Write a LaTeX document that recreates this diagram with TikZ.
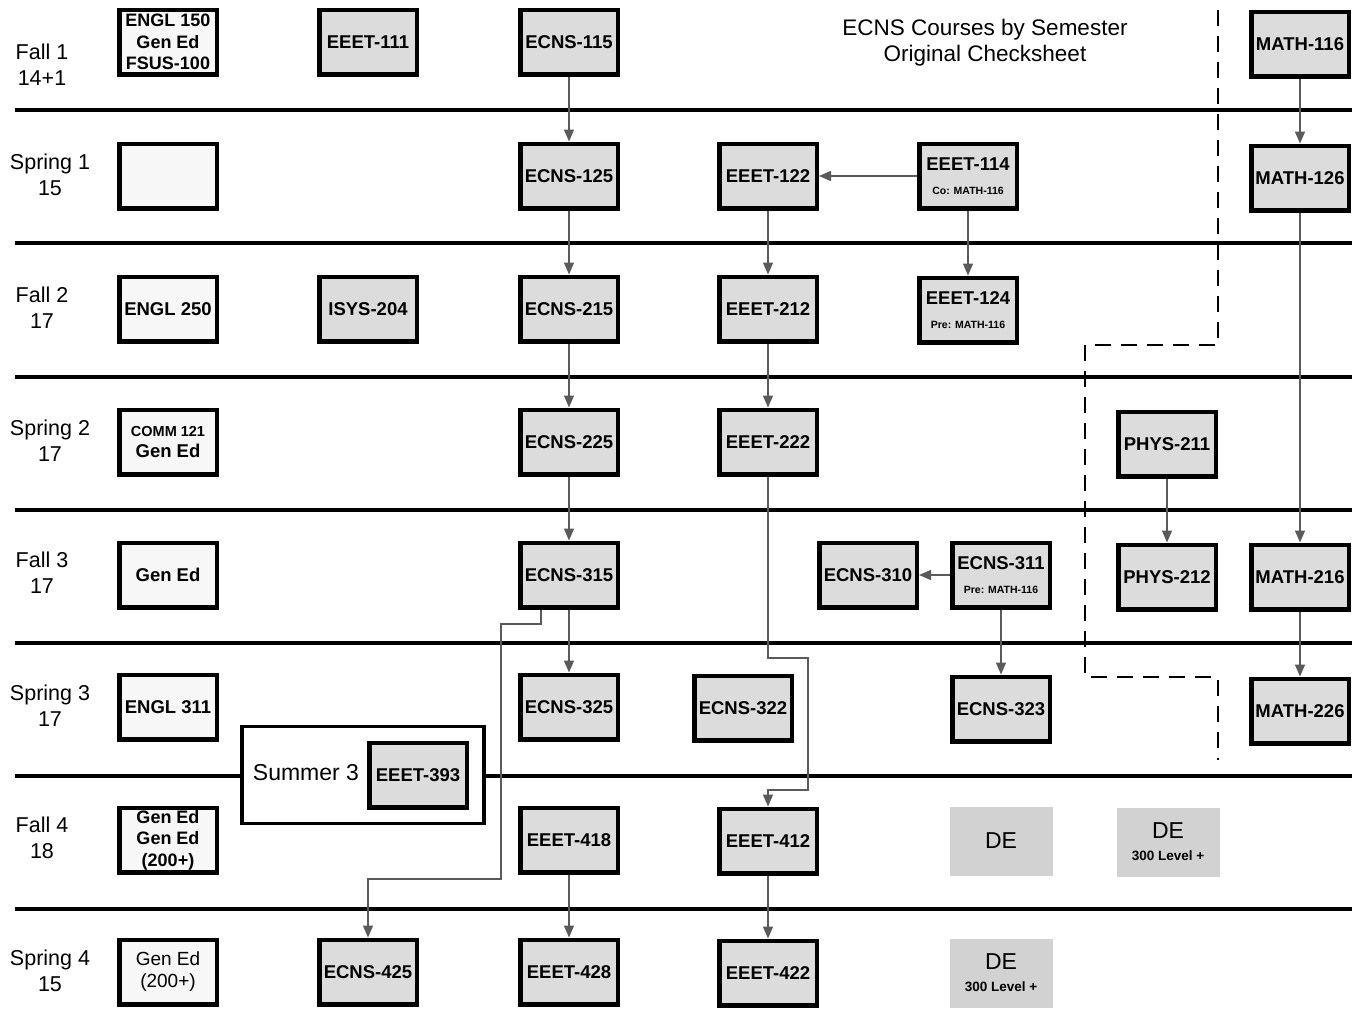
\documentclass[tikz,border=0pt]{standalone}
\usepackage{fontspec}
\setmainfont{Liberation Sans}
\usetikzlibrary{arrows.meta}
\definecolor{coursegray}{HTML}{DCDCDC}
\definecolor{genwhite}{HTML}{F7F7F7}
\definecolor{degray}{HTML}{D2D2D2}
\definecolor{arrowgray}{HTML}{5A5A5A}
\tikzset{
    course/.style={draw, line width=4.5pt, fill=coursegray, minimum width=97.5pt, minimum height=64.5pt, inner sep=1pt, align=center, font=\fontsize{18.5}{21}\selectfont\bfseries},
    genbox/.style={course, fill=genwhite},
    debox/.style={fill=degray, minimum width=103pt, minimum height=69pt, inner sep=1pt, align=center, font=\fontsize{23}{24}\selectfont},
    sem/.style={align=center, font=\fontsize{21.5}{26}\selectfont},
    prereq/.style={draw=arrowgray, line width=1.5pt, -{Triangle[length=12pt,width=10pt]}},
    divider/.style={line width=4pt},
    summerbox/.style={draw, line width=3.5pt, fill=white, minimum width=242pt, minimum height=97pt},
}
\newcommand{\subnote}[1]{{\fontsize{10.5}{12}\selectfont #1}}
\begin{document}
\begin{tikzpicture}[x=1pt,y=-1pt]
        \useasboundingbox[fill=white] (0,0) rectangle (1360,1009);
        \foreach \y in {110,243,377,510,643,776,909}
            \draw[divider] (15,\y) -- (1352,\y);
        \draw[line width=2.5pt, dash pattern=on 16pt off 10pt] (1218,10) -- (1218,345) -- (1085,345) -- (1085,677) -- (1218,677) -- (1218,760);
        \node[align=center, font=\fontsize{22.5}{26}\selectfont] (title) at (985,43) {ECNS Courses by Semester\\Original Checksheet};
        \node[sem] (fall1) at (42,65) {Fall 1\\14+1};
        \node[sem] (spring1) at (50,175) {Spring 1\\15};
        \node[sem] (fall2) at (42,308) {Fall 2\\17};
        \node[sem] (spring2) at (50,441) {Spring 2\\17};
        \node[sem] (fall3) at (42,573) {Fall 3\\17};
        \node[sem] (spring3) at (50,706) {Spring 3\\17};
        \node[sem] (fall4) at (42,838) {Fall 4\\18};
        \node[sem] (spring4) at (50,971) {Spring 4\\15};
        \node[genbox, font=\fontsize{18}{21.5}\selectfont\bfseries] (engl150) at (168,42) {ENGL 150\\Gen Ed\\FSUS-100};
        \node[genbox] (blank1) at (168,176) {};
        \node[genbox] (engl250) at (168,309) {ENGL 250};
        \node[genbox] (comm121) at (168,442) {{\fontsize{14.5}{16}\selectfont COMM 121}\\Gen Ed};
        \node[genbox] (gened3) at (168,575) {Gen Ed};
        \node[genbox] (engl311) at (168,707) {ENGL 311};
        \node[genbox, font=\fontsize{18}{21.5}\selectfont\bfseries] (gened4) at (168,840) {Gen Ed\\Gen Ed\\(200+)};
        \node[genbox, font=\fontsize{19}{22}\selectfont] (gened5) at (168,972) {Gen Ed\\(200+)};
        \node[course] (eeet111) at (368,42) {EEET-111};
        \node[course] (isys204) at (368,309) {ISYS-204};
        \node[course] (ecns425) at (368,972) {ECNS-425};
        \node[course] (ecns115) at (569,42) {ECNS-115};
        \node[course] (ecns125) at (569,176) {ECNS-125};
        \node[course] (ecns215) at (569,309) {ECNS-215};
        \node[course] (ecns225) at (569,442) {ECNS-225};
        \node[course] (ecns315) at (569,575) {ECNS-315};
        \node[course] (ecns325) at (569,707) {ECNS-325};
        \node[course] (eeet418) at (569,840) {EEET-418};
        \node[course] (eeet428) at (569,972) {EEET-428};
        \node[course] (eeet122) at (768,176) {EEET-122};
        \node[course] (eeet212) at (768,309) {EEET-212};
        \node[course] (eeet222) at (768,442) {EEET-222};
        \node[course] (ecns322) at (743,708) {ECNS-322};
        \node[course] (eeet412) at (768,841) {EEET-412};
        \node[course] (eeet422) at (768,973) {EEET-422};
        \node[course] (eeet114) at (968,176) {EEET-114\\[3pt]\subnote{Co: MATH-116}};
        \node[course] (eeet124) at (968,310) {EEET-124\\[3pt]\subnote{Pre: MATH-116}};
        \node[course] (ecns310) at (868,575) {ECNS-310};
        \node[course] (ecns311) at (1001,575) {ECNS-311\\[3pt]\subnote{Pre: MATH-116}};
        \node[course] (ecns323) at (1001,709) {ECNS-323};
        \node[course] (phys211) at (1167,444) {PHYS-211};
        \node[course] (phys212) at (1167,577) {PHYS-212};
        \node[course] (math116) at (1300,44) {MATH-116};
        \node[course] (math126) at (1300,178) {MATH-126};
        \node[course] (math216) at (1300,577) {MATH-216};
        \node[course] (math226) at (1300,711) {MATH-226};
        \node[debox] (de1) at (1001,841) {DE};
        \node[debox] (de2) at (1168,842) {DE\\[-2pt]{\fontsize{13.5}{15}\selectfont\bfseries 300 Level +}};
        \node[debox] (de3) at (1001,973) {DE\\[-2pt]{\fontsize{13.5}{15}\selectfont\bfseries 300 Level +}};
        \node[summerbox] (summer) at (363,775) {};
        \node[font=\fontsize{23}{24}\selectfont] (summerlbl) at (306,773) {Summer 3};
        \node[course] (eeet393) at (418,775) {EEET-393};
        \coordinate (bendA) at (501,624);
        \coordinate (bendB) at (368,879);
        \coordinate (bendC) at (808,658);
        \coordinate (bendD) at (768,790);
        \draw[prereq] (ecns115) -- (ecns125);
        \draw[prereq] (ecns125) -- (ecns215);
        \draw[prereq] (ecns215) -- (ecns225);
        \draw[prereq] (ecns225) -- (ecns315);
        \draw[prereq] (ecns315) -- (ecns325);
        \draw[prereq] (eeet114) -- (eeet122);
        \draw[prereq] (eeet122) -- (eeet212);
        \draw[prereq] (eeet212) -- (eeet222);
        \draw[prereq] (eeet114) -- (eeet124);
        \draw[prereq] (math116) -- (math126);
        \draw[prereq] (math126) -- (math216);
        \draw[prereq] (math216) -- (math226);
        \draw[prereq] (phys211) -- (phys212);
        \draw[prereq] (ecns311) -- (ecns310);
        \draw[prereq] (ecns311) -- (ecns323);
        \draw[prereq] (eeet418) -- (eeet428);
        \draw[prereq] (eeet412) -- (eeet422);
        \draw[prereq] ([xshift=-28pt]ecns315.south) |- (bendA) |- (bendB) -- (ecns425);
        \draw[prereq] (eeet222) |- (bendC) |- (bendD) -- (eeet412);
\end{tikzpicture}
\end{document}
